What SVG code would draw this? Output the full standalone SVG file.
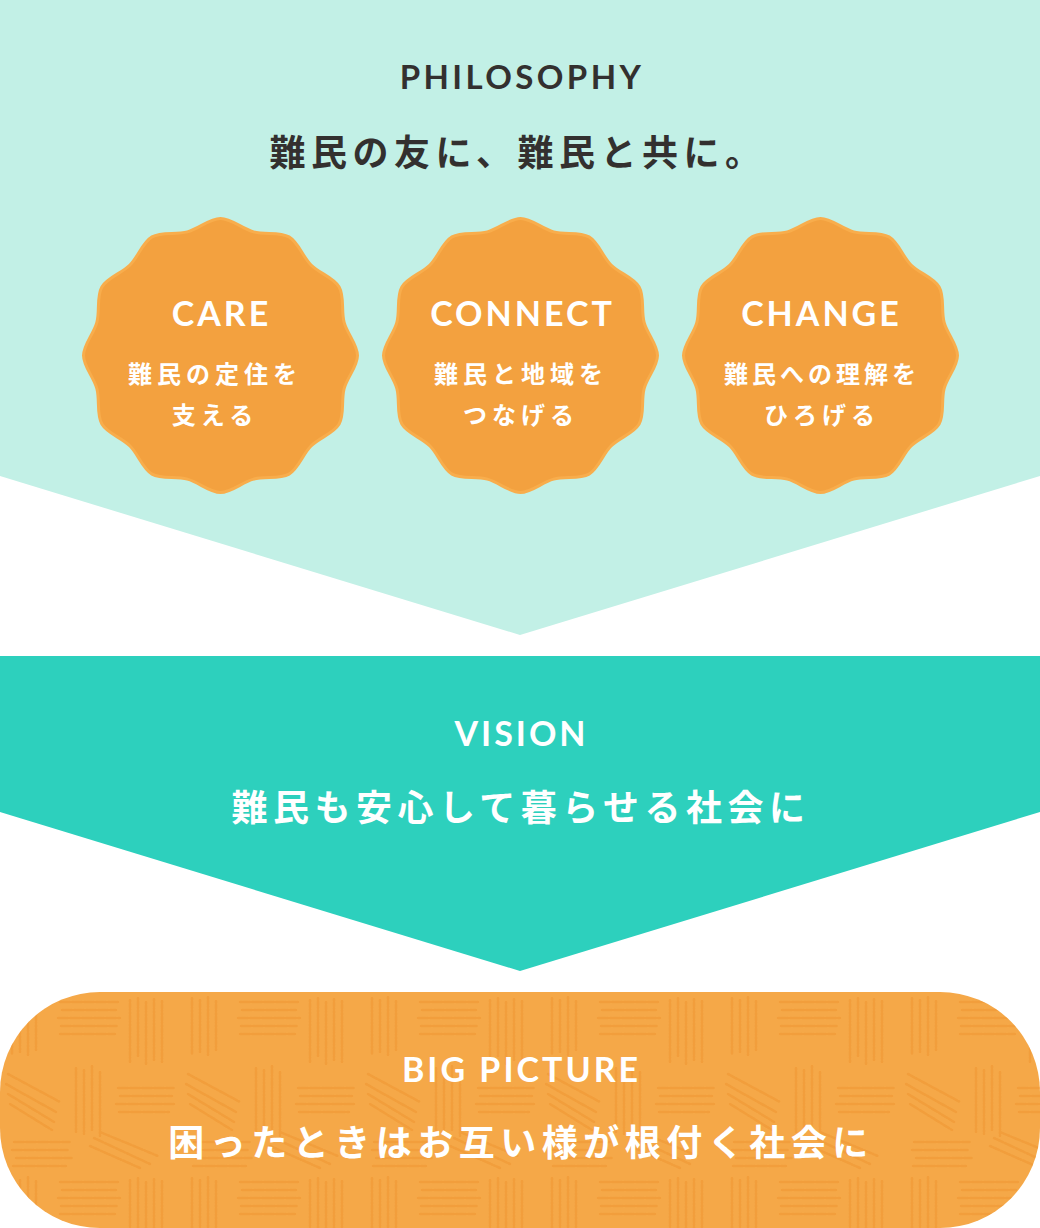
<svg xmlns="http://www.w3.org/2000/svg" width="1040" height="1228" viewBox="0 0 1040 1228">
<style>
.en{font-family:Lato,"Open Sans","Liberation Sans",sans-serif;font-weight:700;text-anchor:middle}
.jp{font-family:"Noto Sans CJK JP","Noto Sans",sans-serif;font-weight:700;text-anchor:middle;dominant-baseline:central}
.dark{fill:#33302f}
.w{fill:#ffffff}
.badge{fill:#f3a13f;stroke:#f8ad4c;stroke-width:3}
.tx{stroke:#ec922c;stroke-width:2.6;stroke-linecap:round;stroke-dasharray:2 1.5 4 1.5 1 2;fill:none;opacity:.45}
</style>
<defs>
<path id="badgeShape" d="M137,0 C137,11 126.75,21.54 123.64,33.13 S124.14,58.97 118.64,68.5 S99,82.02 90.51,90.51 S78.03,113.14 68.5,118.64 S44.72,120.53 33.13,123.64 S11,137 0,137 S-21.54,126.75 -33.13,123.64 S-58.97,124.14 -68.5,118.64 S-82.02,99 -90.51,90.51 S-113.14,78.03 -118.64,68.5 S-120.53,44.72 -123.64,33.13 S-137,11 -137,0 S-126.75,-21.54 -123.64,-33.13 S-124.14,-58.97 -118.64,-68.5 S-99,-82.02 -90.51,-90.51 S-78.03,-113.14 -68.5,-118.64 S-44.72,-120.53 -33.13,-123.64 S-11,-137 0,-137 S21.54,-126.75 33.13,-123.64 S58.97,-124.14 68.5,-118.64 S82.02,-99 90.51,-90.51 S113.14,-78.03 118.64,-68.5 S120.53,-44.72 123.64,-33.13 S137,-11 137,0 Z"/>
<pattern id="tex" x="0" y="992" width="180" height="180" patternUnits="userSpaceOnUse">
<g class="tx">
<path d="M12,6 V62 M20,8 V60 M28,5 V63 M36,9 V58"/>
<path d="M60,10 H118 M62,18 H116 M58,26 H120 M61,34 H117 M60,42 H115"/>
<path d="M130,8 V70 M138,6 V66 M146,10 V72 M154,7 V68 M162,9 V70"/>
<path d="M8,82 L60,110 M6,92 L56,120 M8,102 L54,130 M10,112 L52,138"/>
<path d="M76,76 V140 M84,78 V142 M92,74 V138 M100,80 V144"/>
<path d="M118,96 H174 M120,104 H172 M116,112 H176 M119,120 H170"/>
<path d="M14,150 H70 M12,158 H68 M16,166 H72 M13,174 H66"/>
<path d="M90,154 L140,176 M94,146 L150,172 M100,140 L158,164"/>
</g>
</pattern>
</defs>
<g id="philosophy">
<polygon points="0,0 1040,0 1040,476 520,635 0,476" fill="#c2f0e6"/>
<text class="en dark" x="522" y="89" font-size="33" letter-spacing="3.4">PHILOSOPHY</text>
<text class="jp dark" x="518" y="150" font-size="36" letter-spacing="5.5">難民の友に、難民と共に。</text>
</g>
<g id="care">
<use href="#badgeShape" class="badge" transform="translate(220.5,355.5)"/>
<text class="en w" x="221.5" y="326" font-size="34" letter-spacing="3">CARE</text>
<text class="jp w" x="215" y="372" font-size="24" letter-spacing="5">難民の定住を</text>
<text class="jp w" x="215" y="413" font-size="24" letter-spacing="5">支える</text>
</g>
<g id="connect">
<use href="#badgeShape" class="badge" transform="translate(520.5,355.5)"/>
<text class="en w" x="522.5" y="326" font-size="34" letter-spacing="3">CONNECT</text>
<text class="jp w" x="521" y="372" font-size="24" letter-spacing="5">難民と地域を</text>
<text class="jp w" x="521" y="413" font-size="24" letter-spacing="5">つなげる</text>
</g>
<g id="change">
<use href="#badgeShape" class="badge" transform="translate(820.5,355.5)"/>
<text class="en w" x="821.5" y="326" font-size="34" letter-spacing="3">CHANGE</text>
<text class="jp w" x="822" y="372" font-size="24" letter-spacing="4">難民への理解を</text>
<text class="jp w" x="822" y="413" font-size="24" letter-spacing="5">ひろげる</text>
</g>
<g id="vision">
<polygon points="0,656 1040,656 1040,812 520,971 0,812" fill="#2dd0bd"/>
<text class="en w" x="521.5" y="746" font-size="34" letter-spacing="3">VISION</text>
<text class="jp w" x="521" y="805" font-size="36" letter-spacing="5.5">難民も安心して暮らせる社会に</text>
</g>
<g id="bigpicture">
<rect x="0" y="992" width="1040" height="236" rx="100" ry="100" fill="#f5a848"/>
<rect x="0" y="992" width="1040" height="236" rx="100" ry="100" fill="url(#tex)"/>
<text class="en w" x="521.5" y="1082" font-size="34" letter-spacing="3">BIG PICTURE</text>
<text class="jp w" x="521" y="1140" font-size="36" letter-spacing="5.5">困ったときはお互い様が根付く社会に</text>
</g>
<g id="connectors"></g>
</svg>
